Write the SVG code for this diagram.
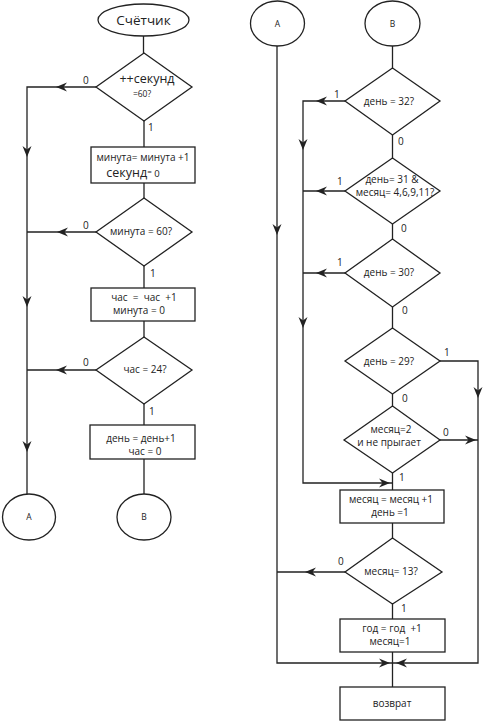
<svg xmlns="http://www.w3.org/2000/svg" xmlns:xlink="http://www.w3.org/1999/xlink" width="486" height="724" viewBox="0 0 486 724">
<style>
.s{fill:#fff;stroke:#222;stroke-width:1.3}
.c{fill:none;stroke:#222;stroke-width:1.3}
.t{font-family:"Open Sans","DejaVu Sans",sans-serif;font-size:10px;fill:#222;text-anchor:middle}
.l{font-family:"Open Sans","DejaVu Sans",sans-serif;font-size:10px;fill:#222}
</style>
<defs>
<path id="ah" d="M0,0 L-11,-4.5 L-7.5,0 L-11,4.5 Z" fill="#222"/>
</defs>
<rect width="486" height="724" fill="#fff"/>
<g id="connectors">
<path class="c" d="M143.5,36 V53 M144,121 V147 M144,183 V198 M144,266 V288 M144,321 V337 M144,404 V425 M144,459 V494"/>
<path class="c" d="M96,87 H27 V494 M96,232 H27 M96,370 H27"/>
<path class="c" d="M392.5,46 V68 M392.5,135 V158 M392.5,224 V239 M392.5,307 V328 M392.5,394 V406 M392.5,473 V490 M392.5,523 V538 M392.5,604 V619 M392.5,652 V687"/>
<path class="c" d="M277,46 V663 H392 M345,101 H303 V483 H392 M345,191 H303 M345,273 H303 M345,572 H277"/>
<path class="c" d="M440,361 H478 V663 H393 M440,440 H478"/>
<use xlink:href="#ah" transform="translate(56,87) rotate(180)"/>
<use xlink:href="#ah" transform="translate(57,232) rotate(180)"/>
<use xlink:href="#ah" transform="translate(56,370) rotate(180)"/>
<use xlink:href="#ah" transform="translate(27,157) rotate(90)"/>
<use xlink:href="#ah" transform="translate(27,307) rotate(90)"/>
<use xlink:href="#ah" transform="translate(27,452) rotate(90)"/>
<use xlink:href="#ah" transform="translate(316,101) rotate(180)"/>
<use xlink:href="#ah" transform="translate(316,191) rotate(180)"/>
<use xlink:href="#ah" transform="translate(316,273) rotate(180)"/>
<use xlink:href="#ah" transform="translate(305,572) rotate(180)"/>
<use xlink:href="#ah" transform="translate(303,150) rotate(90)"/>
<use xlink:href="#ah" transform="translate(303,328) rotate(90)"/>
<use xlink:href="#ah" transform="translate(277,235) rotate(90)"/>
<use xlink:href="#ah" transform="translate(478,398) rotate(90)"/>
<use xlink:href="#ah" transform="translate(476,440)"/>
<use xlink:href="#ah" transform="translate(390,483)"/>
<use xlink:href="#ah" transform="translate(390,663)"/>
<use xlink:href="#ah" transform="translate(396,663) rotate(180)"/>
<text class="l" x="83" y="84">0</text>
<text class="l" x="148" y="131">1</text>
<text class="l" x="83" y="229">0</text>
<text class="l" x="150" y="277">1</text>
<text class="l" x="83" y="366">0</text>
<text class="l" x="149" y="415">1</text>
<text class="l" x="334" y="98">1</text>
<text class="l" x="398" y="145">0</text>
<text class="l" x="337" y="185">1</text>
<text class="l" x="401" y="232">0</text>
<text class="l" x="337" y="266">1</text>
<text class="l" x="402" y="314">0</text>
<text class="l" x="444" y="356">1</text>
<text class="l" x="402" y="402">0</text>
<text class="l" x="443" y="436">0</text>
<text class="l" x="399" y="481">1</text>
<text class="l" x="338" y="565">0</text>
<text class="l" x="401" y="612">1</text>
</g>
<g id="start">
<ellipse class="s" cx="143.5" cy="20" rx="45.5" ry="16"/>
<text class="t" x="143.5" y="25" style="font-size:13.5px">Счётчик</text>
</g>
<g id="d1">
<polygon class="s" points="144,53 192,87 144,121 96,87"/>
<text class="t" x="147" y="83" style="font-size:12.5px">++секунд</text>
<text class="t" x="142" y="97" style="font-size:8.5px">=60?</text>
</g>
<g id="b1">
<rect class="s" x="91" y="147" width="104" height="36"/>
<text class="t" x="143" y="161">минута= минута +1</text>
<text class="t" x="133" y="177"><tspan style="font-size:12.5px">секунд</tspan><tspan style="font-size:8px" dy="-3">=</tspan><tspan style="font-size:9.5px" dy="3"> 0</tspan></text>
</g>
<g id="d2">
<polygon class="s" points="144,198 192,232 144,266 96,232"/>
<text class="t" x="141" y="235">минута = 60?</text>
</g>
<g id="b2">
<rect class="s" x="91" y="288" width="104" height="33"/>
<text class="t" x="144" y="301" xml:space="preserve">час  =  час  +1</text>
<text class="t" x="139" y="314">минута = 0</text>
</g>
<g id="d3">
<polygon class="s" points="144,337 192,370 144,404 96,370"/>
<text class="t" x="145" y="373">час  = 24?</text>
</g>
<g id="b3">
<rect class="s" x="90" y="425" width="105" height="34"/>
<text class="t" x="141" y="442">день = день+1</text>
<text class="t" x="145" y="455">час  = 0</text>
</g>
<g id="A1">
<ellipse class="s" cx="29" cy="517" rx="26.5" ry="23"/>
<text class="t" x="29" y="520" style="font-size:8.5px">A</text>
</g>
<g id="B1">
<ellipse class="s" cx="144" cy="517" rx="27" ry="23"/>
<text class="t" x="144" y="520" style="font-size:8.5px">B</text>
</g>
<g id="A2">
<ellipse class="s" cx="277.5" cy="23.5" rx="27" ry="22.5"/>
<text class="t" x="277.5" y="27" style="font-size:8.5px">A</text>
</g>
<g id="B2">
<ellipse class="s" cx="392.5" cy="23.5" rx="27.5" ry="22.5"/>
<text class="t" x="392.5" y="27" style="font-size:8.5px">B</text>
</g>
<g id="r1">
<polygon class="s" points="392.5,68 440,101 392.5,135 345,101"/>
<text class="t" x="389" y="105">день = 32?</text>
</g>
<g id="r2">
<polygon class="s" points="392.5,158 440,191 392.5,224 345,191"/>
<text class="t" x="392" y="183">день= 31 &amp;</text>
<text class="t" x="395" y="196">месяц= 4,6,9,11?</text>
</g>
<g id="r3">
<polygon class="s" points="392.5,239 440,273 392.5,307 345,273"/>
<text class="t" x="389" y="276">день  = 30?</text>
</g>
<g id="r4">
<polygon class="s" points="392.5,328 440,361 392.5,394 345,361"/>
<text class="t" x="389" y="365">день = 29?</text>
</g>
<g id="r5">
<polygon class="s" points="392.5,406 440,440 392.5,473 344,440"/>
<text class="t" x="391" y="433">месяц=2</text>
<text class="t" x="389" y="446">и не прыгает</text>
</g>
<g id="rb1">
<rect class="s" x="340" y="490" width="104" height="33"/>
<text class="t" x="391" y="503">месяц = месяц +1</text>
<text class="t" x="390" y="516">день =1</text>
</g>
<g id="r6">
<polygon class="s" points="392.5,538 442,572 392.5,604 345,572"/>
<text class="t" x="391" y="575">месяц= 13?</text>
</g>
<g id="rb2">
<rect class="s" x="340" y="619" width="105" height="33"/>
<text class="t" x="392" y="632" xml:space="preserve">год = год  +1</text>
<text class="t" x="390" y="645">месяц=1</text>
</g>
<g id="rb3">
<rect class="s" x="340" y="687" width="105" height="33"/>
<text class="t" x="392" y="707">возврат</text>
</g>
</svg>
